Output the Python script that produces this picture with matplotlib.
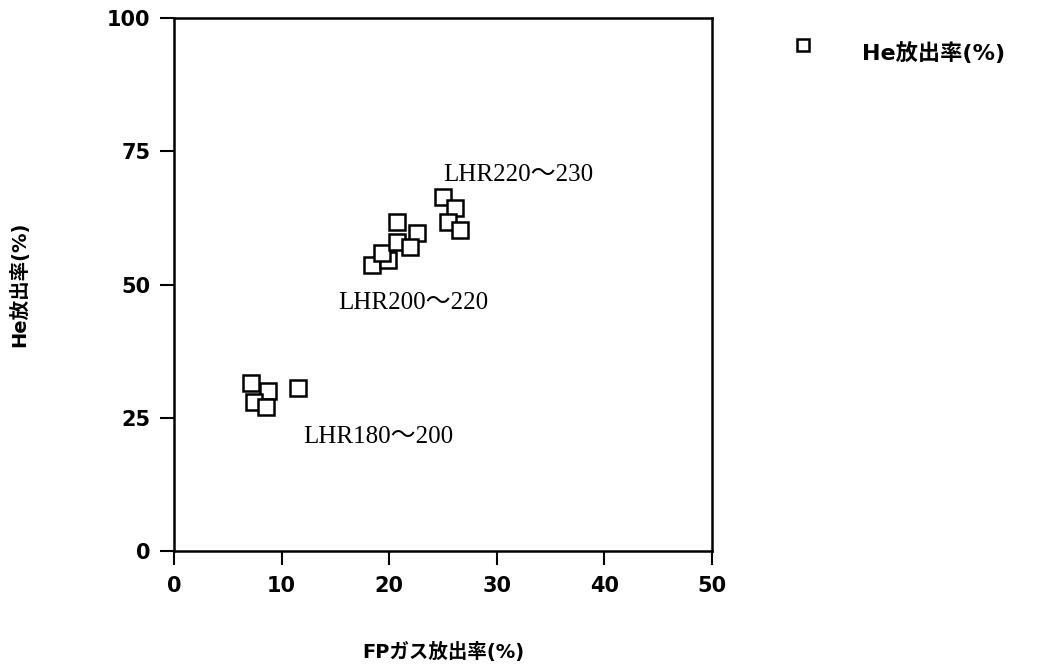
import matplotlib
matplotlib.use("Agg")
import matplotlib.pyplot as plt

# FP gas release vs He release, grouped by linear heat rate band
fp_release = [7.2, 8.7, 7.4, 8.6, 11.5,
              18.4, 19.9, 19.3, 20.7, 20.7, 22.6, 21.9,
              25.0, 26.1, 25.5, 26.6]
he_release = [31.5, 30.0, 27.9, 27.0, 30.6,
              53.7, 54.6, 55.9, 58.0, 61.8, 59.6, 57.1,
              66.5, 64.3, 61.8, 60.2]

group_labels = ["LHR220〜230", "LHR200〜220", "LHR180〜200"]
group_label_xy = [(25.0, 70.5), (15.3, 46.5), (12.0, 21.5)]

x_ticks = [0, 10, 20, 30, 40, 50]
y_ticks = [0, 25, 50, 75, 100]

sans = ["DejaVu Sans", "Noto Sans CJK JP"]
serif = ["Liberation Serif", "Noto Sans CJK JP"]

fig = plt.figure(figsize=(10.42, 6.69), dpi=100)
ax = fig.add_axes([0.167, 0.176, 0.516, 0.797])

ax.plot(fp_release, he_release, linestyle="none", marker="s", markersize=11,
        markerfacecolor="white", markeredgecolor="black", markeredgewidth=1.8)

for text, (tx, ty) in zip(group_labels, group_label_xy):
    ax.text(tx, ty, text, family=serif, fontsize=18, ha="left", va="center")

ax.set_xlim(0, 50)
ax.set_ylim(0, 100)
ax.set_xticks(x_ticks)
ax.set_yticks(y_ticks)
ax.tick_params(direction="out", length=10, width=1.5, labelsize=15)
ax.tick_params(axis="y", pad=7)
ax.tick_params(axis="x", pad=8)
for lbl in ax.get_xticklabels() + ax.get_yticklabels():
    lbl.set_family(sans)
    lbl.set_fontweight("bold")
for side in ax.spines.values():
    side.set_linewidth(1.8)

ax.set_xlabel("FPガス放出率(%)", family=sans, fontsize=14, fontweight="bold", labelpad=33)
ax.set_ylabel("He放出率(%)", family=sans, fontsize=14, fontweight="bold", labelpad=56)

# legend drawn as a lone marker with its caption to the right of the plot
fig.lines.append(plt.Line2D([803 / 1042], [1 - 45 / 669], transform=fig.transFigure,
                            linestyle="none", marker="s", markersize=9,
                            markerfacecolor="white", markeredgecolor="black",
                            markeredgewidth=1.8))
fig.text(862 / 1042, 1 - 53 / 669, "He放出率(%)", family=sans, fontsize=16,
         fontweight="bold", ha="left", va="center")

fig.savefig("out.png", dpi=100)
